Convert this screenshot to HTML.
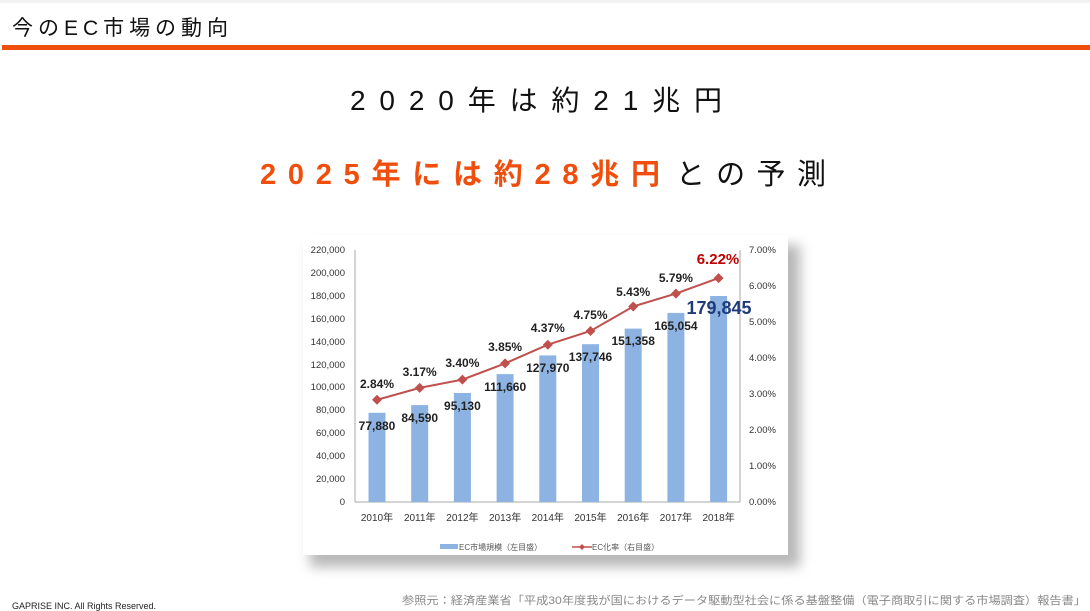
<!DOCTYPE html>
<html><head><meta charset="utf-8"><style>
html,body{margin:0;padding:0;background:#fff;}
svg{display:block;}
text{font-family:"Liberation Sans","Noto Sans CJK JP",sans-serif;}
</style></head><body>
<svg width="1090" height="611" viewBox="0 0 1090 611" xmlns="http://www.w3.org/2000/svg">
<defs>
<filter id="sh" x="-10%" y="-10%" width="125%" height="130%"><feGaussianBlur stdDeviation="6"/></filter>
</defs>
<rect x="0" y="0" width="1090" height="611" fill="#fff"/>
<rect x="0" y="0" width="1090" height="3" fill="#f2f2f2"/>
<text x="12" y="35" font-size="21" fill="#111" textLength="216" lengthAdjust="spacing">今のEC市場の動向</text>
<rect x="2" y="45" width="1088" height="5" fill="#f04e0c"/>
<text x="350" y="110" font-size="28" fill="#111" textLength="372" lengthAdjust="spacing">2020年は約21兆円</text>
<text x="260" y="184" font-size="29" font-weight="bold" fill="#f04e0c" textLength="400" lengthAdjust="spacing">2025年には約28兆円</text>
<text x="676" y="184" font-size="29" fill="#111" textLength="150" lengthAdjust="spacing">との予測</text>
<rect x="310" y="245" width="490" height="322" fill="#888" opacity="0.6" filter="url(#sh)"/>
<rect x="303" y="235" width="485" height="320" fill="#fff"/>
<g font-size="9.5" fill="#333" text-anchor="end">
<text x="345" y="505">0</text><text x="345" y="482">20,000</text><text x="345" y="459">40,000</text><text x="345" y="436">60,000</text><text x="345" y="413">80,000</text><text x="345" y="390">100,000</text><text x="345" y="368">120,000</text><text x="345" y="345">140,000</text><text x="345" y="322">160,000</text><text x="345" y="299">180,000</text><text x="345" y="276">200,000</text><text x="345" y="253">220,000</text>
</g>
<g font-size="9.5" fill="#333">
<text x="749" y="505">0.00%</text><text x="749" y="469">1.00%</text><text x="749" y="433">2.00%</text><text x="749" y="397">3.00%</text><text x="749" y="361">4.00%</text><text x="749" y="325">5.00%</text><text x="749" y="289">6.00%</text><text x="749" y="253">7.00%</text>
</g>
<g stroke="#aaa" stroke-width="1">
<line x1="355" y1="250" x2="355" y2="502"/><line x1="740" y1="250" x2="740" y2="502"/>
<line x1="355" y1="502" x2="740" y2="502"/>
</g>
<g fill="#8db3e2">
<rect x="368.5" y="412.8" width="17" height="89.2"/>
<rect x="411.2" y="405.1" width="17" height="96.9"/>
<rect x="453.9" y="393" width="17" height="109"/>
<rect x="496.6" y="374.1" width="17" height="127.9"/>
<rect x="539.3" y="355.4" width="17" height="146.6"/>
<rect x="582" y="344.2" width="17" height="157.8"/>
<rect x="624.7" y="328.6" width="17" height="173.4"/>
<rect x="667.4" y="312.9" width="17" height="189.1"/>
<rect x="710.1" y="296" width="17" height="206"/>
</g>
<polyline fill="none" stroke="#c0504d" stroke-width="2" points="377,399.8 419.7,387.9 462.4,379.6 505.1,363.4 547.8,344.7 590.5,331 633.2,306.5 675.9,293.6 718.6,278.1"/>
<g fill="#c0504d">
<path d="M377 394.8l5 5-5 5-5-5z"/><path d="M419.7 382.9l5 5-5 5-5-5z"/><path d="M462.4 374.6l5 5-5 5-5-5z"/><path d="M505.1 358.4l5 5-5 5-5-5z"/><path d="M547.8 339.7l5 5-5 5-5-5z"/><path d="M590.5 326l5 5-5 5-5-5z"/><path d="M633.2 301.5l5 5-5 5-5-5z"/><path d="M675.9 288.6l5 5-5 5-5-5z"/><path d="M718.6 273.1l5 5-5 5-5-5z"/>
</g>
<g font-size="12" font-weight="bold" fill="#222" text-anchor="middle">
<text x="377" y="388">2.84%</text><text x="419.7" y="376">3.17%</text><text x="462.4" y="367">3.40%</text><text x="505.1" y="351">3.85%</text><text x="547.8" y="332">4.37%</text><text x="590.5" y="319">4.75%</text><text x="633.2" y="296">5.43%</text><text x="675.9" y="282">5.79%</text>
<text x="377" y="430">77,880</text><text x="419.7" y="422">84,590</text><text x="462.4" y="410">95,130</text><text x="505.1" y="391">111,660</text><text x="547.8" y="372">127,970</text><text x="590.5" y="361">137,746</text><text x="633.2" y="345">151,358</text><text x="675.9" y="330">165,054</text>
</g>
<text x="718" y="264" font-size="15" font-weight="bold" fill="#c00000" text-anchor="middle">6.22%</text>
<text x="719" y="314" font-size="18" font-weight="bold" fill="#1f3b7a" text-anchor="middle">179,845</text>
<g font-size="10" fill="#333" text-anchor="middle">
<text x="377" y="521">2010年</text><text x="419.7" y="521">2011年</text><text x="462.4" y="521">2012年</text><text x="505.1" y="521">2013年</text><text x="547.8" y="521">2014年</text><text x="590.5" y="521">2015年</text><text x="633.2" y="521">2016年</text><text x="675.9" y="521">2017年</text><text x="718.6" y="521">2018年</text>
</g>
<rect x="440" y="544" width="18" height="5" fill="#8db3e2"/>
<text x="459" y="550" font-size="8" fill="#555">EC市場規模（左目盛）</text>
<line x1="572" y1="547" x2="592" y2="547" stroke="#c0504d" stroke-width="1.5"/>
<path d="M582 544l3 3-3 3-3-3z" fill="#c0504d"/>
<text x="592" y="550" font-size="8" fill="#555">EC化率（右目盛）</text>
<text x="12" y="609" font-size="9" fill="#222">GAPRISE INC. All Rights Reserved.</text>
<text x="402" y="604" font-size="11" fill="#888" textLength="684" lengthAdjust="spacingAndGlyphs">参照元：経済産業省「平成30年度我が国におけるデータ駆動型社会に係る基盤整備（電子商取引に関する市場調査）報告書」</text>
</svg>
</body></html>
